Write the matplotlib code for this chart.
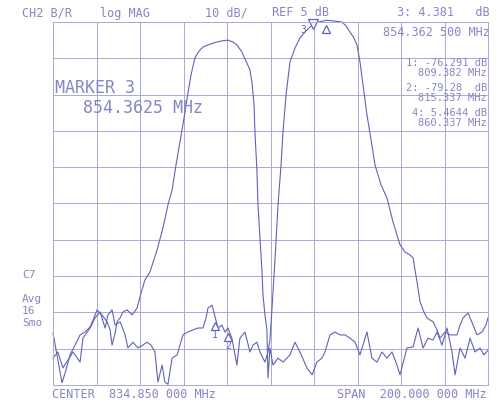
import matplotlib.pyplot as plt
import numpy as np

# frequency axis (MHz) and level axis (dB)
center = 834.85
span = 200.0
ref = 5.0
per_div = 10.0

# trace A (lower band filter + noise)
fa = [734.85, 737.1, 739.0, 740.8, 742.7, 745.0, 747.3, 749.6, 751.9, 753.7,
      755.1, 756.5, 757.4, 759.7, 761.1, 762.0, 763.4, 764.3, 765.7, 767.0,
      768.9, 771.2, 773.5, 774.8, 777.1, 779.4, 782.7, 785.4, 787.7, 789.6,
      791.4, 793.2, 795.1, 796.5, 798.3, 800.1, 802.0, 803.8, 807.0, 810.3,
      812.5, 815.3, 817.6, 819.4, 821.7, 824.0, 825.4, 826.3, 827.3, 827.7,
      828.6, 829.1, 830.0, 830.9, 831.4, 832.3, 833.2, 833.7, 834.6, 836.0,
      838.3, 840.6, 843.8, 846.1, 848.4, 851.6, 854.0, 856.2, 858.5, 859.9,
      862.2, 864.5, 866.8, 869.1, 871.4, 873.7, 876.0, 879.2, 881.5, 883.8,
      886.1, 888.4, 890.7, 893.0, 894.4, 897.6, 900.4, 902.7, 905.0, 907.3,
      909.6, 911.4, 913.7, 916.0, 918.3, 919.7, 922.0, 924.3, 926.6, 928.9,
      931.2, 933.0, 934.85]
la = [-80.7, -88.1, -94.4, -90.9, -86.7, -84.0, -81.2, -80.4, -79.0, -76.5,
      -74.3, -75.2, -75.7, -77.6, -79.8, -84.0, -80.7, -77.6, -76.5, -74.9,
      -74.3, -75.7, -73.8, -70.8, -66.1, -63.9, -57.8, -51.7, -45.4, -41.3,
      -34.4, -28.1, -21.4, -16.0, -9.6, -4.9, -3.0, -1.9, -1.1, -0.5,
      -0.2, 0.0, -0.5, -1.3, -3.3, -6.3, -8.2, -11.5, -17.9, -25.3,
      -35.8, -45.4, -54.5, -63.3, -70.2, -75.7, -79.8, -93.1, -84.8, -89.5,
      -87.6, -88.7, -86.7, -83.2, -85.9, -90.3, -92.2, -88.7, -87.6, -85.9,
      -81.2, -80.4, -81.2, -81.2, -82.1, -83.2, -86.7, -80.4, -87.6, -88.7,
      -85.9, -87.6, -85.9, -89.5, -92.2, -84.8, -84.5, -79.3, -84.8, -82.1,
      -82.6, -80.4, -84.0, -79.3, -85.9, -92.2, -84.8, -87.6, -82.1, -85.9,
      -84.8, -86.7, -85.4]

# trace B (upper band filter + noise)
fb = [734.85, 737.1, 739.4, 741.75, 744.05, 747.3, 748.6, 751.9, 754.2, 756.5,
      758.8, 760.1, 762.0, 763.4, 765.7, 768.0, 769.3, 771.6, 773.9, 776.2,
      778.1, 779.9, 781.7, 783.1, 785.0, 786.3, 787.7, 789.6, 791.9, 794.6,
      796.9, 799.2, 801.5, 803.8, 805.2, 806.1, 808.0, 809.4, 810.7, 812.5,
      813.9, 815.3, 817.1, 819.4, 820.8, 823.1, 825.4, 826.8, 828.6, 830.0,
      832.3, 833.7, 834.6, 835.5, 836.9, 838.3, 839.7, 840.6, 842.0, 843.8,
      846.1, 848.4, 850.7, 853.0, 854.4, 855.8, 858.5, 860.4, 862.2, 867.7,
      869.6, 871.4, 873.2, 874.6, 876.0, 877.4, 879.2, 881.1, 882.9, 885.7,
      888.4, 889.8, 891.2, 893.0, 894.4, 896.7, 899.0, 900.4, 901.3, 902.2,
      903.6, 905.4, 906.8, 908.2, 909.6, 911.4, 912.8, 915.1, 917.4, 920.6,
      922.0, 923.4, 925.7, 928.0, 929.8, 932.1, 933.9, 934.85]
lb = [-87.6, -85.9, -90.3, -88.1, -85.9, -88.7, -82.1, -79.3, -76.5, -74.9,
      -79.3, -75.7, -74.3, -78.5, -77.6, -81.2, -84.8, -83.2, -84.8, -84.0,
      -83.2, -84.0, -85.9, -94.2, -89.5, -94.2, -94.8, -87.6, -86.7, -81.2,
      -80.4, -79.8, -79.3, -79.3, -76.5, -73.8, -73.0, -76.3, -79.3, -78.5,
      -80.4, -79.3, -82.1, -89.5, -82.1, -80.4, -85.9, -84.0, -83.2, -85.9,
      -88.7, -85.9, -82.6, -74.3, -60.6, -45.4, -34.4, -25.3, -15.1, -6.0,
      -2.2, 0.6, 2.25, 3.6, 4.4, 4.8, 5.2, 5.46, 5.4, 5.0,
      3.9, 2.25, 0.6, -1.3, -6.0, -12.4, -20.6, -27.5, -34.4, -39.9,
      -43.5, -46.8, -50.1, -53.7, -56.4, -58.4, -59.2, -60.0, -63.3, -66.6,
      -72.1, -74.9, -76.5, -77.1, -77.6, -79.8, -82.1, -80.4, -81.2, -81.2,
      -78.5, -76.5, -75.2, -78.5, -81.2, -80.4, -78.5, -76.5]

# markers
mk_num = ['1', '2', '3', '4']
mk_freq = [809.382, 815.337, 854.3625, 860.337]
mk_val = [-76.291, -79.28, 4.381, 5.4644]

trace = '#6262b8'
gridc = '#a8a8dc'
txt = '#8686c6'
mono = 'DejaVu Sans Mono'

fig = plt.figure(figsize=(4.99, 4.05), dpi=100)
ax = fig.add_axes([53/499, 20/405, 435/499, 363/405])
ax.set_xlim(center - span/2, center + span/2)
ax.set_ylim(ref - 10*per_div, ref)
ax.set_xticks(np.linspace(center - span/2, center + span/2, 11))
ax.set_yticks(np.linspace(ref - 10*per_div, ref, 11))
ax.tick_params(length=0, labelbottom=False, labelleft=False)
ax.grid(True, color=gridc, lw=0.7)
for s in ax.spines.values():
    s.set_color(gridc)
    s.set_linewidth(0.7)

ax.plot(fa, la, color=trace, lw=0.8, clip_on=False)
ax.plot(fb, lb, color=trace, lw=0.8, clip_on=False)

# marker symbols
for n, f, v in zip(mk_num, mk_freq, mk_val):
    if n == '3':
        ax.plot(f, v, marker='v', ms=7, mfc='white', mec=trace, mew=0.9,
                clip_on=False)
        ax.annotate(n, (f, v), xytext=(-7, -4), textcoords='offset points',
                    ha='center', va='center', color=trace, fontsize=7,
                    family=mono)
    else:
        ax.plot(f, v - 2.5, marker='^', ms=6, mfc='white', mec=trace, mew=0.9,
                clip_on=False)
        ax.annotate(n, (f, v), xytext=(0, -13), textcoords='offset points',
                    ha='center', va='center', color=trace, fontsize=7,
                    family=mono)

def t(x, y, s, size=8.5, ha='left'):
    fig.text(x/499, 1 - y/405, s, fontsize=size, color=txt, family=mono,
             ha=ha, va='center')

t(22, 13, 'CH2 B/R')
t(100, 13, 'log MAG')
t(205, 13, '10 dB/')
t(272, 13, 'REF 5 dB')
t(490, 13, '3: 4.381   dB', ha='right')
t(490, 32, '854.362 500 MHz', ha='right')

t(55, 88, 'MARKER 3', size=12)
t(83, 108, '854.3625 MHz', size=12)

t(487, 63, '1: -76.291 dB', size=7.5, ha='right')
t(487, 73, '809.382 MHz', size=7.5, ha='right')
t(487, 88, '2: -79.28  dB', size=7.5, ha='right')
t(487, 98, '815.337 MHz', size=7.5, ha='right')
t(487, 113, '4: 5.4644 dB', size=7.5, ha='right')
t(487, 123, '860.337 MHz', size=7.5, ha='right')

t(22, 275, 'C7', size=8)
t(22, 299, 'Avg', size=8)
t(22, 311, '16', size=8)
t(22, 323, 'Smo', size=8)

t(52, 394, 'CENTER  834.850 000 MHz')
t(487, 394, 'SPAN  200.000 000 MHz', ha='right')

plt.savefig('out.png', dpi=100)
